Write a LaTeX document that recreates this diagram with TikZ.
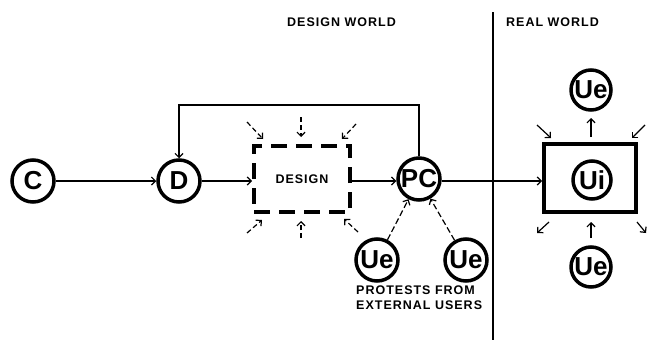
\documentclass[tikz,border=0pt]{standalone}
\usepackage{fontspec}
\setmainfont{Liberation Sans}
\newfontfamily\lettering[LetterSpace=8]{Liberation Sans}
\usetikzlibrary{arrows.meta}

\begin{document}
\begin{tikzpicture}[x=1pt,y=-1pt,>={Straight Barb[length=4pt,width=8pt]}]
                        \tikzstyle{ring}=[circle,draw,line width=3.5pt,minimum size=42pt,inner sep=0pt,font=\fontsize{26}{26}\selectfont\bfseries]
                        \tikzstyle{link}=[->,line width=1.2pt]
                        \tikzstyle{hint}=[->,line width=1.2pt,dash pattern=on 6pt off 3pt]
                        \tikzstyle{lbl}=[font=\fontsize{12.5}{15}\lettering\bfseries,inner sep=0pt]
                        \useasboundingbox (0,0) rectangle (647,340);
                        \node[ring] (C) at (33,181) {C};
                        \node[ring] (D) at (179,181) {D};
                        \node[draw,line width=4pt,dash pattern=on 16pt off 9pt,minimum width=96pt,minimum height=66pt,lbl] (dsg) at (302,179) {DESIGN};
                        \node[ring] (PC) at (419,179) {PC};
                        \node[ring] (UeL) at (377,260) {Ue};
                        \node[ring] (UeR) at (466,260) {Ue};
                        \node[draw,line width=4pt,minimum width=92pt,minimum height=68pt] (world) at (590,178) {};
                        \node[ring,minimum size=38pt] (Ui) at (592,180) {Ui};
                        \node[ring,minimum size=40pt] (UeT) at (591,90) {Ue};
                        \node[ring,minimum size=40pt] (UeB) at (591,267) {Ue};
                        \node[lbl,anchor=west] (dworld) at (287,22) {DESIGN WORLD};
                        \node[lbl,anchor=west] (rworld) at (506,22) {REAL WORLD};
                        \node[lbl,anchor=north west,align=left,font=\fontsize{12.5}{15}\lettering\bfseries] (protest) at (356,286) {PROTESTS FROM\\EXTERNAL USERS};
                        \coordinate (fb) at (300,105);
                        \coordinate (dtop) at (493,12);
                        \coordinate (dbot) at (493,340);
                        \draw[link] (C) -- (D);
                        \draw[link] (D) -- (dsg.west |- D);
                        \draw[link] (dsg.east |- D) -- (PC.west |- D);
                        \draw[link] (PC.north) |- (fb) -| (D.north);
                        \draw[link] (PC.east |- D) -- (world.west |- D);
                        \draw[hint] (UeL) -- (PC);
                        \draw[hint] (UeR) -- (PC);
                        \draw[line width=2pt] (dtop) -- (dbot);
                        \foreach \i/\sx/\sy/\ex/\ey in {1/247/122/263/139,2/301/117/301/137,3/356/124/342/139,4/247/233/262/220,5/301/238/301/221,6/358/232/344/219}
                            {
                            \coordinate (hs\i) at (\sx,\sy);
                            \coordinate (he\i) at (\ex,\ey);
                            \draw[hint,dash pattern=on 5pt off 3pt] (hs\i) -- (he\i);
                            }
                        \foreach \i/\sx/\sy/\ex/\ey in {1/591/137/591/118,2/591/238/591/222,3/537/125/551/138,4/645/125/632/138,5/549/222/537/233,6/637/222/646/233}
                            {
                            \coordinate (ws\i) at (\sx,\sy);
                            \coordinate (we\i) at (\ex,\ey);
                            \draw[link] (ws\i) -- (we\i);
                            }
                    \end{tikzpicture}
\end{document}
